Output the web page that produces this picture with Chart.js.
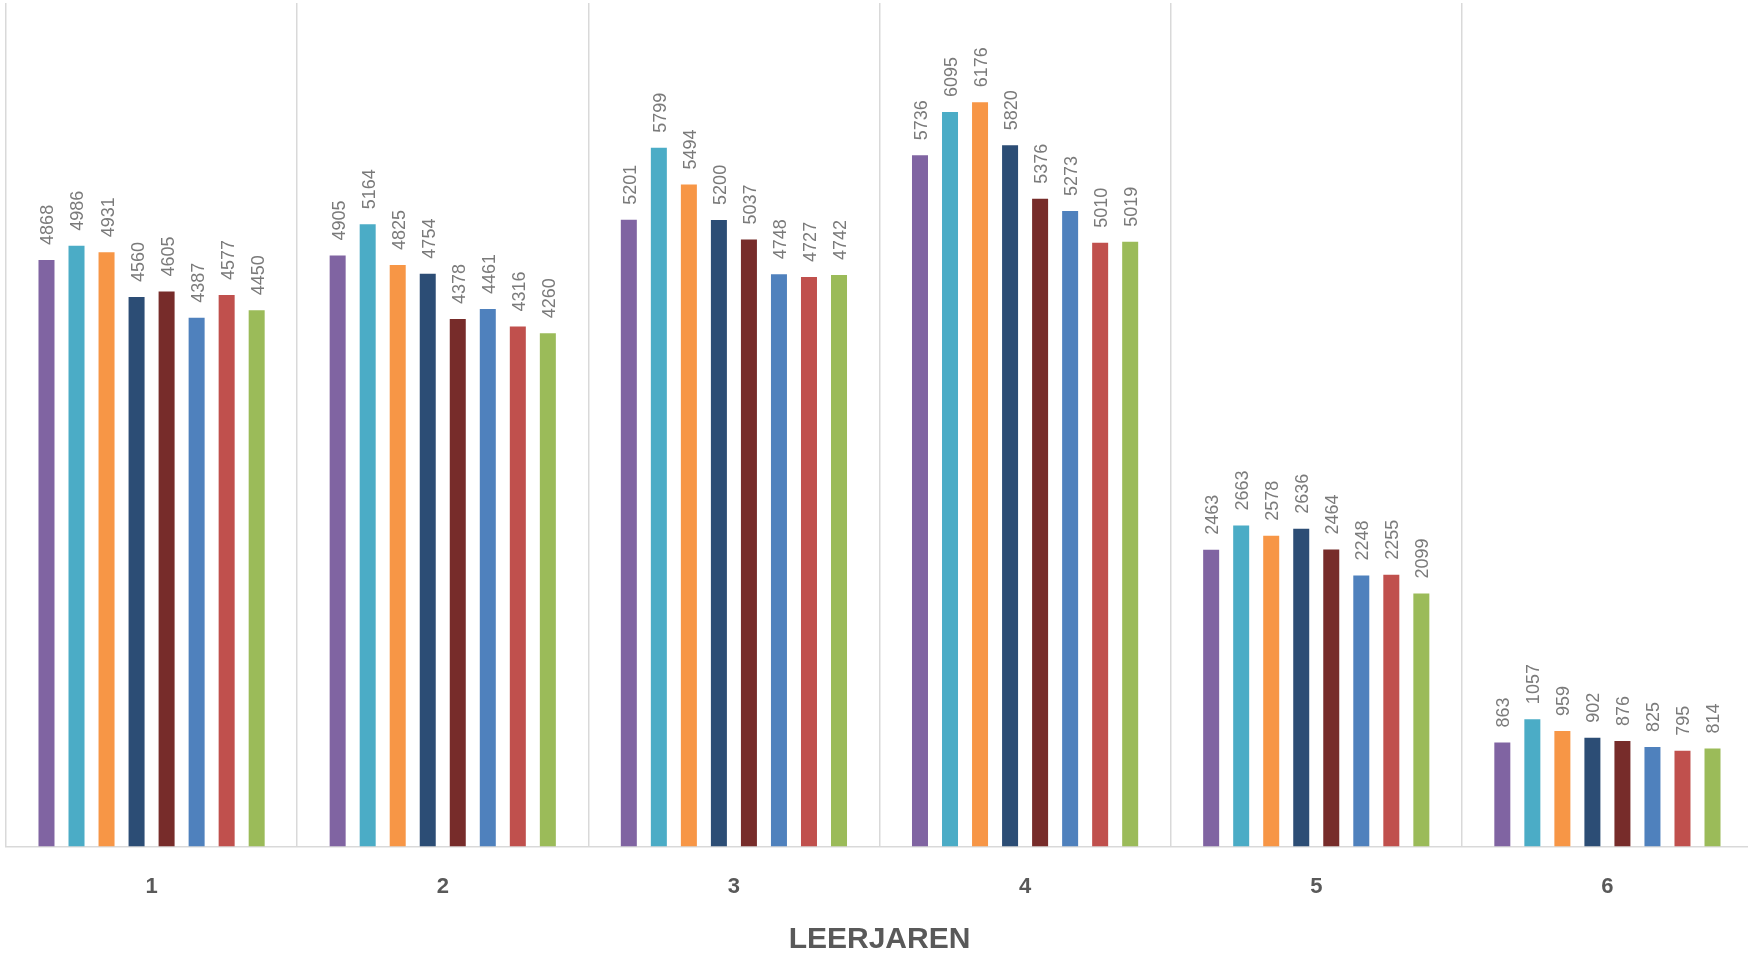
<!DOCTYPE html>
<html>
<head>
<meta charset="utf-8">
<title>Leerjaren</title>
<script src="https://cdn.jsdelivr.net/npm/chart.js@4/dist/chart.umd.min.js"></script>
<style>
    html, body { margin: 0; padding: 0; background: #fff; overflow: hidden; }
    #wrap { width: 1760px; height: 956px; position: relative; }
</style>
</head>
<body>
<div id="wrap"><canvas id="leerChart"></canvas></div>
<script>
// 1. 데이터 (leerjaren 1~6, 8 reeksen)
const leerjaren = ['1', '2', '3', '4', '5', '6'];
const reeksNamen = ['Reeks 1', 'Reeks 2', 'Reeks 3', 'Reeks 4', 'Reeks 5', 'Reeks 6', 'Reeks 7', 'Reeks 8'];
const reeks1 = [4868, 4905, 5201, 5736, 2463, 863];
const reeks2 = [4986, 5164, 5799, 6095, 2663, 1057];
const reeks3 = [4931, 4825, 5494, 6176, 2578, 959];
const reeks4 = [4560, 4754, 5200, 5820, 2636, 902];
const reeks5 = [4605, 4378, 5037, 5376, 2464, 876];
const reeks6 = [4387, 4461, 4748, 5273, 2248, 825];
const reeks7 = [4577, 4316, 4727, 5010, 2255, 795];
const reeks8 = [4450, 4260, 4742, 5019, 2099, 814];
const kleuren = ['#8064A2', '#4BACC6', '#F79646', '#2C4D75', '#772C2A', '#4F81BD', '#C0504D', '#9BBB59'];

const alleReeksen = [reeks1, reeks2, reeks3, reeks4, reeks5, reeks6, reeks7, reeks8];

// 2. 막대 위에 세로로 회전된 값 표시 (datalabels 플러그인 대신)
const verticalLabels = {
    id: 'verticalLabels',
    afterDatasetsDraw(chart) {
        const ctx = chart.ctx;
        ctx.save();
        ctx.fillStyle = '#7a7a7a';
        ctx.font = '18px "Liberation Sans", Arial, sans-serif';
        ctx.textAlign = 'left';
        ctx.textBaseline = 'middle';
        chart.data.datasets.forEach((ds, i) => {
            const meta = chart.getDatasetMeta(i);
            meta.data.forEach((bar, j) => {
                ctx.save();
                ctx.translate(bar.x + 2, bar.y - 15);
                ctx.rotate(-Math.PI / 2);
                ctx.fillText(String(ds.data[j]), 0, 0);
                ctx.restore();
            });
        });
        ctx.restore();
    }
};

const ctx1 = document.getElementById('leerChart').getContext('2d');
new Chart(ctx1, {
    type: 'bar',
    data: {
        labels: leerjaren,
        datasets: alleReeksen.map((d, i) => ({
            label: reeksNamen[i],
            data: d,
            backgroundColor: kleuren[i],
            borderWidth: 0,
            categoryPercentage: 0.825,
            barPercentage: 0.533
        }))
    },
    plugins: [verticalLabels],
    options: {
        responsive: true,
        maintainAspectRatio: false,
        animation: false,
        layout: { padding: { left: 6, right: 7, top: 3, bottom: 0 } },
        plugins: {
            legend: { display: false },
            tooltip: { enabled: false }
        },
        scales: {
            x: {
                grid: {
                    display: true,
                    offset: true,
                    color: '#d9d9d9',
                    lineWidth: 1.5,
                    drawTicks: false
                },
                border: { display: true, color: '#d9d9d9', width: 1.5 },
                ticks: {
                    color: '#595959',
                    padding: 27,
                    font: { family: '"Liberation Sans", Arial, sans-serif', size: 22, weight: 'bold' }
                },
                title: {
                    display: true,
                    text: 'LEERJAREN',
                    color: '#595959',
                    padding: { top: 0, bottom: 3 },
                    font: { family: '"Liberation Sans", Arial, sans-serif', size: 30, weight: 'bold', lineHeight: 0.87 }
                }
            },
            y: {
                display: false,
                min: 0,
                max: 7000
            }
        }
    }
});
</script>
</body>
</html>
